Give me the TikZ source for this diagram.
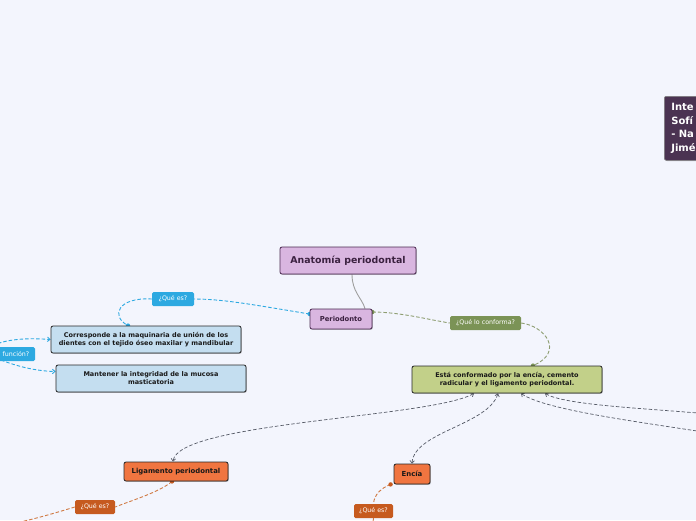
\documentclass[tikz,border=0pt]{standalone}
\usepackage{fontspec}
\setmainfont{DejaVu Sans}
\usetikzlibrary{arrows.meta,shadows}
\definecolor{bgc}{HTML}{F3F5FD}
\definecolor{purfill}{HTML}{D9B6E0}
\definecolor{purdraw}{HTML}{4A2950}
\definecolor{bluefill}{HTML}{C4DEF0}
\definecolor{bluelbl}{HTML}{2DA9E1}
\definecolor{olivelbl}{HTML}{7B9356}
\definecolor{oliveline}{HTML}{8E9E72}
\definecolor{greenfill}{HTML}{C2D089}
\definecolor{orangefill}{HTML}{F07540}
\definecolor{orangelbl}{HTML}{C65A1F}
\definecolor{orangeline}{HTML}{D07B45}
\definecolor{darkpur}{HTML}{4B3352}
\definecolor{greyline}{HTML}{555A66}
\pgfdeclarelayer{back}
\pgfdeclarelayer{lines}
\pgfsetlayers{back,lines,main}
\tikzset{
  mmbox/.style={rounded corners=2pt, inner sep=0pt, align=center, text=black!90,
    draw=black!85, line width=0.8pt,
    font=\bfseries\fontsize{6.5}{8}\selectfont,
    drop shadow={shadow xshift=0.8pt, shadow yshift=-0.8pt, opacity=0.25, fill=black}},
  lbl/.style={rounded corners=1.5pt, inner sep=0pt, text=white,
    font=\fontsize{6.3}{7}\selectfont, minimum height=14pt},
  dsh/.style={line width=0.9pt, dash pattern=on 3.5pt off 2pt},
  mytip/.tip={Straight Barb[length=2.5pt,width=4.5pt]}
}
\begin{document}
\begin{tikzpicture}[x=1pt,y=-1pt]
\useasboundingbox (0,0) rectangle (696,520);
\begin{pgfonlayer}{back}
\fill[bgc] (0,0) rectangle (696,520);
\end{pgfonlayer}

% nodes
\node[mmbox, fill=purfill, draw=purdraw, minimum width=136pt, minimum height=27pt,
  font=\bfseries\fontsize{9.4}{11}\selectfont, text=purdraw!80!black] (title) at (348,260.5) {Anatomía periodontal};
\node[mmbox, fill=purfill, draw=purdraw, minimum width=62pt, minimum height=20pt,
  font=\bfseries\fontsize{6.8}{8}\selectfont, text=purdraw!80!black] (per) at (341,319) {Periodonto};
\node[mmbox, fill=bluefill, minimum width=190pt, minimum height=27pt] (corr) at (146,339.5)
  {Corresponde a la maquinaria de unión de los\\dientes con el tejido óseo maxilar y mandibular};
\node[mmbox, fill=bluefill, minimum width=190pt, minimum height=27pt] (mant) at (151,378.5)
  {Mantener la integridad de la mucosa\\masticatoria};
\node[mmbox, fill=greenfill, minimum width=190pt, minimum height=27pt] (esta) at (507,379.5)
  {Está conformado por la encía, cemento\\radicular y el ligamento periodontal.};
\node[mmbox, fill=orangefill, minimum width=104pt, minimum height=19pt,
  font=\bfseries\fontsize{6.9}{8}\selectfont] (lig) at (176,471.5) {Ligamento periodontal};
\node[mmbox, fill=orangefill, minimum width=36pt, minimum height=20pt,
  font=\bfseries\fontsize{6.9}{8}\selectfont] (enc) at (412,474) {Encía};

\node[lbl, fill=bluelbl, minimum width=42pt] (q1) at (173,299) {¿Qué es?};
\node[lbl, fill=bluelbl, minimum width=38pt] (fun) at (16,354) {función?};
\node[lbl, fill=olivelbl, minimum width=71pt] (ol) at (485.5,323) {¿Qué lo conforma?};
\node[lbl, fill=orangelbl, minimum width=40pt] (o1) at (95,507) {¿Qué es?};
\node[lbl, fill=orangelbl, minimum width=39pt] (o2) at (373.5,511) {¿Qué es?};

\node[rounded corners=2pt, fill=darkpur, draw=black!50, line width=0.6pt, anchor=north west,
  text width=40pt, minimum height=64pt, inner xsep=7pt, inner ysep=0pt, align=left, text=white,
  font=\bfseries\fontsize{10}{13.5}\selectfont,
  drop shadow={shadow xshift=0.8pt, shadow yshift=-0.8pt, opacity=0.25, fill=black}]
  (who) at (664,96) {Inte\\Sofí\\- Na\\Jimé};

\coordinate (fa) at (-12,348);
\coordinate (fb) at (-4,358);
\coordinate (ec) at (710,433);
\coordinate (ed) at (710,414);
\coordinate (oa) at (15,523);
\coordinate (ob) at (372,530);

\begin{pgfonlayer}{lines}
% title -> periodonto
\draw[gray!75, line width=0.9pt] ([xshift=4pt]title.south) .. controls (352,292) and (362,298) .. ([xshift=24pt]per.north);
% blue
\draw[bluelbl, dsh] ([yshift=5pt]per.west) .. controls (260,306) and (225,299) .. (q1.east);
\draw[bluelbl, dsh] (q1.west) .. controls (118,297) and (110,316) .. ([xshift=-18pt]corr.north);
\fill[bluelbl] ([yshift=5pt]per.west) circle (2.2pt);
\fill[bluelbl] ([xshift=-18pt]corr.north) circle (2.2pt);
\draw[bluelbl, dsh, -{mytip}] (fa) .. controls (5,338) and (30,338) .. (corr.west);
\draw[bluelbl, dsh, -{mytip}] (fb) .. controls (15,366) and (35,371) .. ([yshift=7pt]mant.west);
% olive
\draw[oliveline, dsh] ([yshift=7pt]per.east) .. controls (400,312) and (430,320) .. (ol.west);
\draw[oliveline, dsh] (ol.east) .. controls (545,326) and (565,352) .. ([xshift=26pt]esta.north);
\fill[olivelbl] ([yshift=7pt]per.east) circle (2.2pt);
\fill[olivelbl] ([xshift=26pt]esta.north) circle (2.2pt);
% grey
\draw[greyline, line width=0.7pt, dash pattern=on 3.5pt off 2pt, {mytip}-{mytip}] ([xshift=-33pt]esta.south) .. controls (430,418) and (178,422) .. ([xshift=-3pt]lig.north);
\draw[greyline, line width=0.7pt, dash pattern=on 3.5pt off 2pt, {mytip}-{mytip}] ([xshift=-9pt]esta.south) .. controls (488,425) and (414,432) .. (enc.north);
\draw[greyline, line width=0.7pt, dash pattern=on 3.5pt off 2pt, {mytip}-] ([xshift=14pt]esta.south) .. controls (545,410) and (640,422) .. (ec);
\draw[greyline, line width=0.7pt, dash pattern=on 3.5pt off 2pt, {mytip}-] ([xshift=38pt]esta.south) .. controls (565,405) and (640,408) .. (ed);
% orange
\draw[orangeline, dsh] ([xshift=-4pt]lig.south) .. controls (160,492) and (130,501) .. (o1.east);
\draw[orangeline, dsh] (o1.west) .. controls (55,513) and (35,519) .. (oa);
\fill[orangelbl] ([xshift=-4pt]lig.south) circle (2.2pt);
\draw[orangeline, dsh] ([xshift=-3pt]enc.south west) .. controls (381,488) and (374,495) .. (o2.north);
\draw[orangeline, dsh] (o2.south) -- (ob);
\fill[orangelbl] ([xshift=-3pt]enc.south west) circle (2.2pt);
\end{pgfonlayer}
\end{tikzpicture}
\end{document}
